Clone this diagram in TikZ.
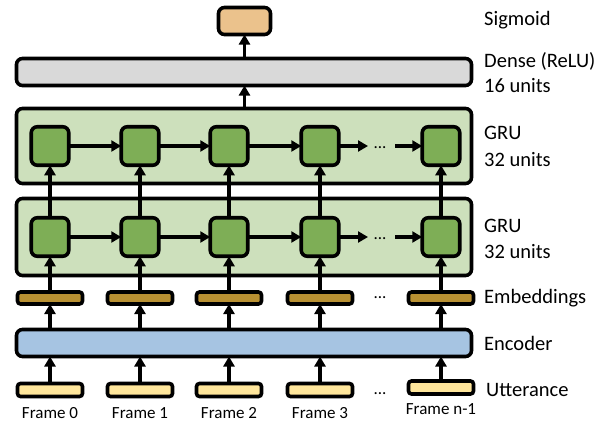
\documentclass[tikz,border=0pt]{standalone}
\usepackage{fontspec}
\setmainfont{Carlito}
\usetikzlibrary{arrows.meta}

\definecolor{sigfill}{RGB}{235,194,140}
\definecolor{densefill}{RGB}{217,217,217}
\definecolor{grufill}{RGB}{205,224,188}
\definecolor{cellfill}{RGB}{126,174,86}
\definecolor{embfill}{RGB}{184,144,50}
\definecolor{encfill}{RGB}{166,196,226}
\definecolor{uttfill}{RGB}{255,230,155}

\tikzset{
  blk/.style={draw, line width=3.6pt, rounded corners=6pt, inner sep=0pt, outer sep=0pt},
  layer/.style={blk, minimum width=455pt},
  cell/.style={blk, fill=cellfill, minimum width=37.5pt, minimum height=38.5pt},
  emb/.style={blk, rounded corners=3pt, fill=embfill, minimum width=65pt, minimum height=12pt},
  utt/.style={blk, rounded corners=3pt, fill=uttfill, minimum width=65pt, minimum height=13pt},
  lbl/.style={anchor=west, inner sep=0pt, font=\fontsize{20.5}{22}\selectfont},
  frm/.style={inner sep=0pt, font=\fontsize{17}{18}\selectfont},
  dotsty/.style={inner sep=0pt, font=\fontsize{17}{18}\selectfont},
  arr/.style={line width=3.3pt, -{Triangle[length=10pt,width=11pt]}}
}

\begin{document}
\begin{tikzpicture}[x=1pt, y=-1pt]
  \path[use as bounding box, fill=white] (0,0) rectangle (606,423);

  % output and dense layers
  \node[blk, fill=sigfill, minimum width=52pt, minimum height=27pt] (sig) at (244.5,21) {};
  \node[layer, fill=densefill, minimum height=27pt] (dense) at (244,72) {};

  % GRU containers
  \node[layer, fill=grufill, minimum height=75pt] (gruB) at (244,146) {};
  \node[layer, fill=grufill, minimum height=77pt] (gruA) at (244,237) {};

  % encoder
  \node[layer, fill=encfill, minimum height=27pt] (enc) at (244,343) {};

  % per-frame columns
  \foreach \i/\x in {1/50, 2/140, 3/229, 4/320, 5/441} {
    \node[cell] (t\i) at (\x,146) {};
    \node[cell] (b\i) at (\x,237) {};
    \node[emb] (e\i) at (\x,298) {};
  }
  \foreach \i/\x in {1/50, 2/140, 3/229, 4/320} {
    \node[utt] (u\i) at (\x,390) {};
  }
  \node[utt] (u5) at (441,387.5) {};

  % frame captions
  \node[frm] (f1) at (50,413) {Frame 0};
  \node[frm] (f2) at (140,413) {Frame 1};
  \node[frm] (f3) at (229,413) {Frame 2};
  \node[frm] (f4) at (320,413) {Frame 3};
  \node[frm] (f5) at (441,409) {Frame n-1};

  % ellipses
  \coordinate (tdl) at (368,146);
  \coordinate (tdr) at (395,146);
  \coordinate (bdl) at (368,237);
  \coordinate (bdr) at (395,237);
  \node[dotsty] (tdots) at (380,148) {...};
  \node[dotsty] (bdots) at (380,239) {...};
  \node[dotsty] (edots) at (380,298) {...};
  \node[dotsty] (udots) at (380,394) {...};

  % vertical data flow
  \foreach \i in {1,...,5} {
    \draw[arr] (u\i) -- (u\i |- enc.south);
    \draw[arr] (e\i |- enc.north) -- (e\i);
    \draw[arr] (e\i) -- (b\i);
    \draw[arr] (b\i) -- (t\i);
  }
  \draw[arr] (gruB.north -| sig) -- (dense.south -| sig);
  \draw[arr] (dense.north -| sig) -- (sig);

  % recurrent connections
  \foreach \r in {t,b} {
    \draw[arr] (\r1) -- (\r2);
    \draw[arr] (\r2) -- (\r3);
    \draw[arr] (\r3) -- (\r4);
    \draw[arr] (\r4) -- (\r dl);
    \draw[arr] (\r dr) -- (\r5);
  }

  % layer labels
  \node[lbl] (l1) at (484,20) {Sigmoid};
  \node[lbl] (l2) at (484,61) {Dense (ReLU)};
  \node[lbl] (l3) at (484,86) {16 units};
  \node[lbl] (l4) at (484,133) {GRU};
  \node[lbl] (l5) at (484,160) {32 units};
  \node[lbl] (l6) at (484,226) {GRU};
  \node[lbl] (l7) at (484,252) {32 units};
  \node[lbl] (l8) at (484,298) {Embeddings};
  \node[lbl] (l9) at (484,343) {Encoder};
  \node[lbl] (l10) at (486,390) {Utterance};
\end{tikzpicture}
\end{document}
